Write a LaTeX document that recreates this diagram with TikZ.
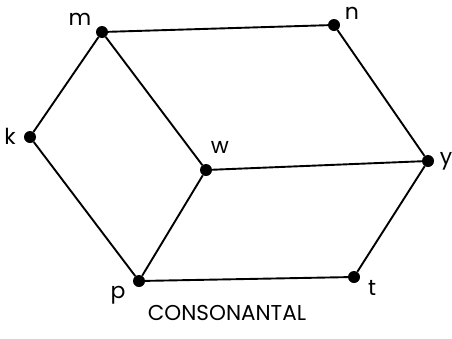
\documentclass[tikz,border=0pt]{standalone}
\usepackage{fontspec}
\setmainfont{Poppins}
\begin{document}
\begin{tikzpicture}[x=1pt,y=-1pt,
  vtx/.style={circle,fill=black,inner sep=0pt,minimum size=12pt},
  lab/.style={font=\fontsize{22}{22}\selectfont,inner sep=0pt},
  edge/.style={line width=1.9pt}]
\useasboundingbox (0,0) rectangle (452,338);
\node[vtx] (m) at (102,32) {};
\node[vtx] (n) at (334,25) {};
\node[vtx] (k) at (30,137) {};
\node[vtx] (w) at (206,170) {};
\node[vtx] (y) at (428,161) {};
\node[vtx] (p) at (139,281) {};
\node[vtx] (t) at (354,277) {};
\node[lab] (lm) at (80,19) {m};
\node[lab] (ln) at (352,13) {n};
\node[lab] (lk) at (10,136) {k};
\node[lab] (lw) at (220,147) {w};
\node[lab] (ly) at (446,161) {y};
\node[lab] (lp) at (118,295) {p};
\node[lab] (lt) at (372,288) {t};
\node[lab,font=\fontsize{21.5}{21.5}\selectfont] (cap) at (227,313) {CONSONANTAL};
\draw[edge] (m) -- (n);
\draw[edge] (m) -- (k);
\draw[edge] (m) -- (w);
\draw[edge] (n) -- (y);
\draw[edge] (k) -- (p);
\draw[edge] (w) -- (p);
\draw[edge] (w) -- (y);
\draw[edge] (y) -- (t);
\draw[edge] (p) -- (t);
\end{tikzpicture}
\end{document}
